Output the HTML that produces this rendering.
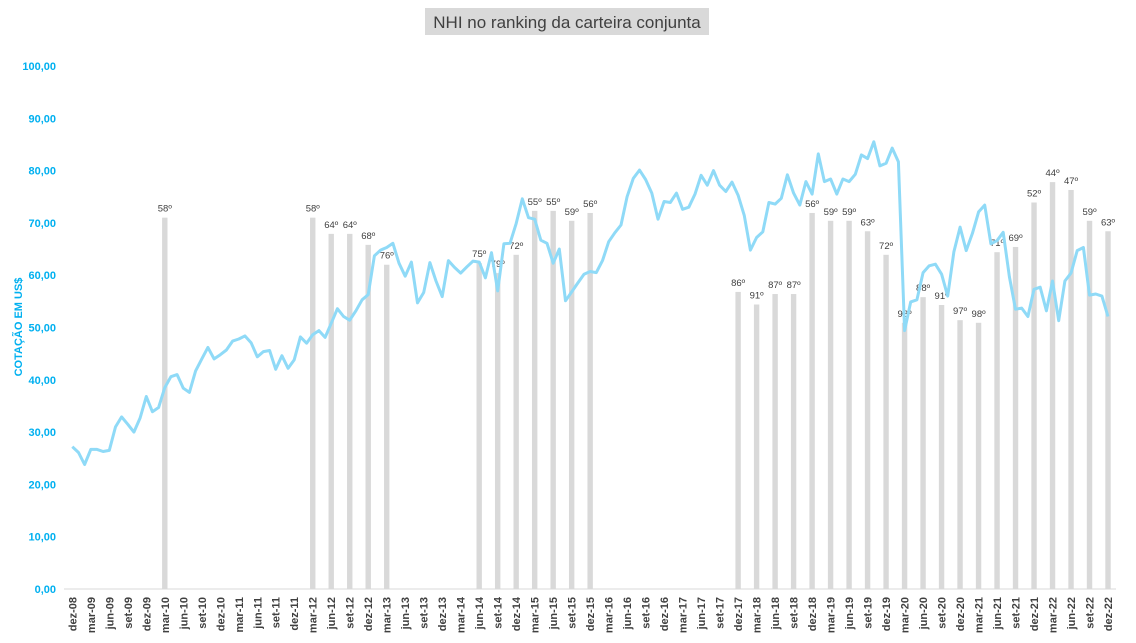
<!DOCTYPE html>
<html><head><meta charset="utf-8">
<style>
html,body{margin:0;padding:0;background:#fff;}
svg{display:block;font-family:"Liberation Sans",sans-serif;}
</style></head>
<body>
<svg id="chart" width="1136" height="643" viewBox="0 0 1136 643" xmlns="http://www.w3.org/2000/svg">
  <rect x="425" y="8" width="284" height="27" fill="#d9d9d9"/>
  <text x="567" y="28" text-anchor="middle" font-size="17" fill="#404040">NHI no ranking da carteira conjunta</text>
  <text transform="translate(22,327) rotate(-90)" text-anchor="middle" font-size="11" font-weight="bold" fill="#00b0f0">COTAÇÃO EM US$</text>
  <g id="yticks"></g>
  <g id="bars"></g>
  <g id="barlabels"></g>
  <line x1="64" y1="589" x2="1116" y2="589" stroke="#d9d9d9" stroke-width="1"/>
  <g id="xticks"></g>
  <path id="priceLine" fill="none" stroke="#8fdaf7" stroke-width="3" stroke-linejoin="round"/>
</svg>
<script>
const prices = [27.2,26.1,23.8,26.7,26.7,26.3,26.5,31.0,32.9,31.5,30.0,32.7,36.8,33.9,34.7,38.5,40.6,41.0,38.4,37.6,41.7,44.0,46.2,44.0,44.8,45.7,47.4,47.8,48.4,47.1,44.4,45.4,45.6,42.0,44.6,42.2,43.8,48.2,47.0,48.6,49.4,48.1,50.8,53.6,52.1,51.4,53.2,55.3,56.3,63.7,64.8,65.3,66.1,62.3,59.8,62.5,54.7,56.7,62.4,58.9,55.9,62.8,61.5,60.4,61.6,62.7,62.5,59.5,64.3,57.0,66.0,66.1,69.9,74.6,71.0,70.7,66.7,66.1,62.3,65.0,55.1,56.8,58.5,60.2,60.7,60.5,62.8,66.4,68.1,69.6,75.0,78.5,80.1,78.3,75.7,70.7,74.1,73.9,75.7,72.6,73.0,75.5,79.1,77.2,80.0,77.2,76.0,77.8,75.3,71.4,64.8,67.2,68.3,73.9,73.6,74.7,79.2,75.7,73.4,77.9,75.5,83.2,77.9,78.4,75.5,78.4,77.9,79.3,83.0,82.3,85.5,80.9,81.4,84.3,81.7,49.4,54.9,55.3,60.5,61.8,62.1,60.2,56.0,64.5,69.2,64.7,68.0,72.1,73.4,66.0,66.6,68.2,59.7,53.5,53.7,52.1,57.3,57.7,53.2,58.9,51.3,58.9,60.4,64.7,65.3,56.2,56.4,56.0,52.1];
const barMonths = [15,39,42,45,48,51,66,69,72,75,78,81,84,108,111,114,117,120,123,126,129,132,135,138,141,144,147,150,153,156,159,162,165,168];
const barValues = [71,71,67.9,67.9,65.8,62,62.3,60.4,63.9,72.3,72.3,70.4,71.9,56.8,54.4,56.4,56.4,71.9,70.4,70.4,68.4,63.9,50.9,55.8,54.3,51.4,50.9,64.4,65.4,73.9,77.8,76.3,70.4,68.4];
const barLabels = ["58º","58º","64º","64º","68º","76º","75º","79º","72º","55º","55º","59º","56º","86º","91º","87º","87º","56º","59º","59º","63º","72º","98º","88º","91º","97º","98º","71º","69º","52º","44º","47º","59º","63º"];
const yTicks = [0,10,20,30,40,50,60,70,80,90,100];
const monthNames = ["dez","jan","fev","mar","abr","mai","jun","jul","ago","set","out","nov"];

const NS="http://www.w3.org/2000/svg";
function xPos(i){return 72.3+6.165*i;}
function yPos(v){return 589-5.23*v;}

const yg=document.getElementById('yticks');
yTicks.forEach(v=>{
  const t=document.createElementNS(NS,'text');
  
  
  t.setAttribute('x',56);t.setAttribute('y',yPos(v)+4);
  t.setAttribute('text-anchor','end');t.setAttribute('font-size','11');
  t.setAttribute('font-weight','bold');t.setAttribute('fill','#00b0f0');
  t.textContent=v.toFixed(2).replace('.',',');
  yg.appendChild(t);
});

const xg=document.getElementById('xticks');
for(let i=0;i<prices.length;i+=3){
  const yr=(8+Math.floor((i+11)/12))%100;
  const lbl=monthNames[i%12]+'-'+String(yr).padStart(2,'0');
  const t=document.createElementNS(NS,'text');
  
  
  const x=xPos(i)+4;
  t.setAttribute('transform','translate('+x+',597) rotate(-90)');
  t.setAttribute('text-anchor','end');t.setAttribute('font-size','11');
  t.setAttribute('font-weight','bold');t.setAttribute('fill','#404040');
  t.textContent=lbl;
  xg.appendChild(t);
}

const bg=document.getElementById('bars'), lg=document.getElementById('barlabels');
barMonths.forEach((m,k)=>{
  const r=document.createElementNS(NS,'rect');
  
  
  const top=yPos(barValues[k]);
  r.setAttribute('x',xPos(m)-2.7);r.setAttribute('y',top);
  r.setAttribute('width',5.4);r.setAttribute('height',589-top);
  r.setAttribute('fill','#d9d9d9');
  bg.appendChild(r);
  const t=document.createElementNS(NS,'text');
  
  
  t.setAttribute('x',xPos(m));t.setAttribute('y',top-6);
  t.setAttribute('text-anchor','middle');t.setAttribute('font-size','9.5');
  t.setAttribute('fill','#404040');
  t.textContent=barLabels[k];
  lg.appendChild(t);
});

let d='';
prices.forEach((v,i)=>{d+=(i?'L':'M')+xPos(i).toFixed(1)+' '+yPos(v).toFixed(1)+' ';});
document.getElementById('priceLine').setAttribute('d',d);
</script>
</body></html>
